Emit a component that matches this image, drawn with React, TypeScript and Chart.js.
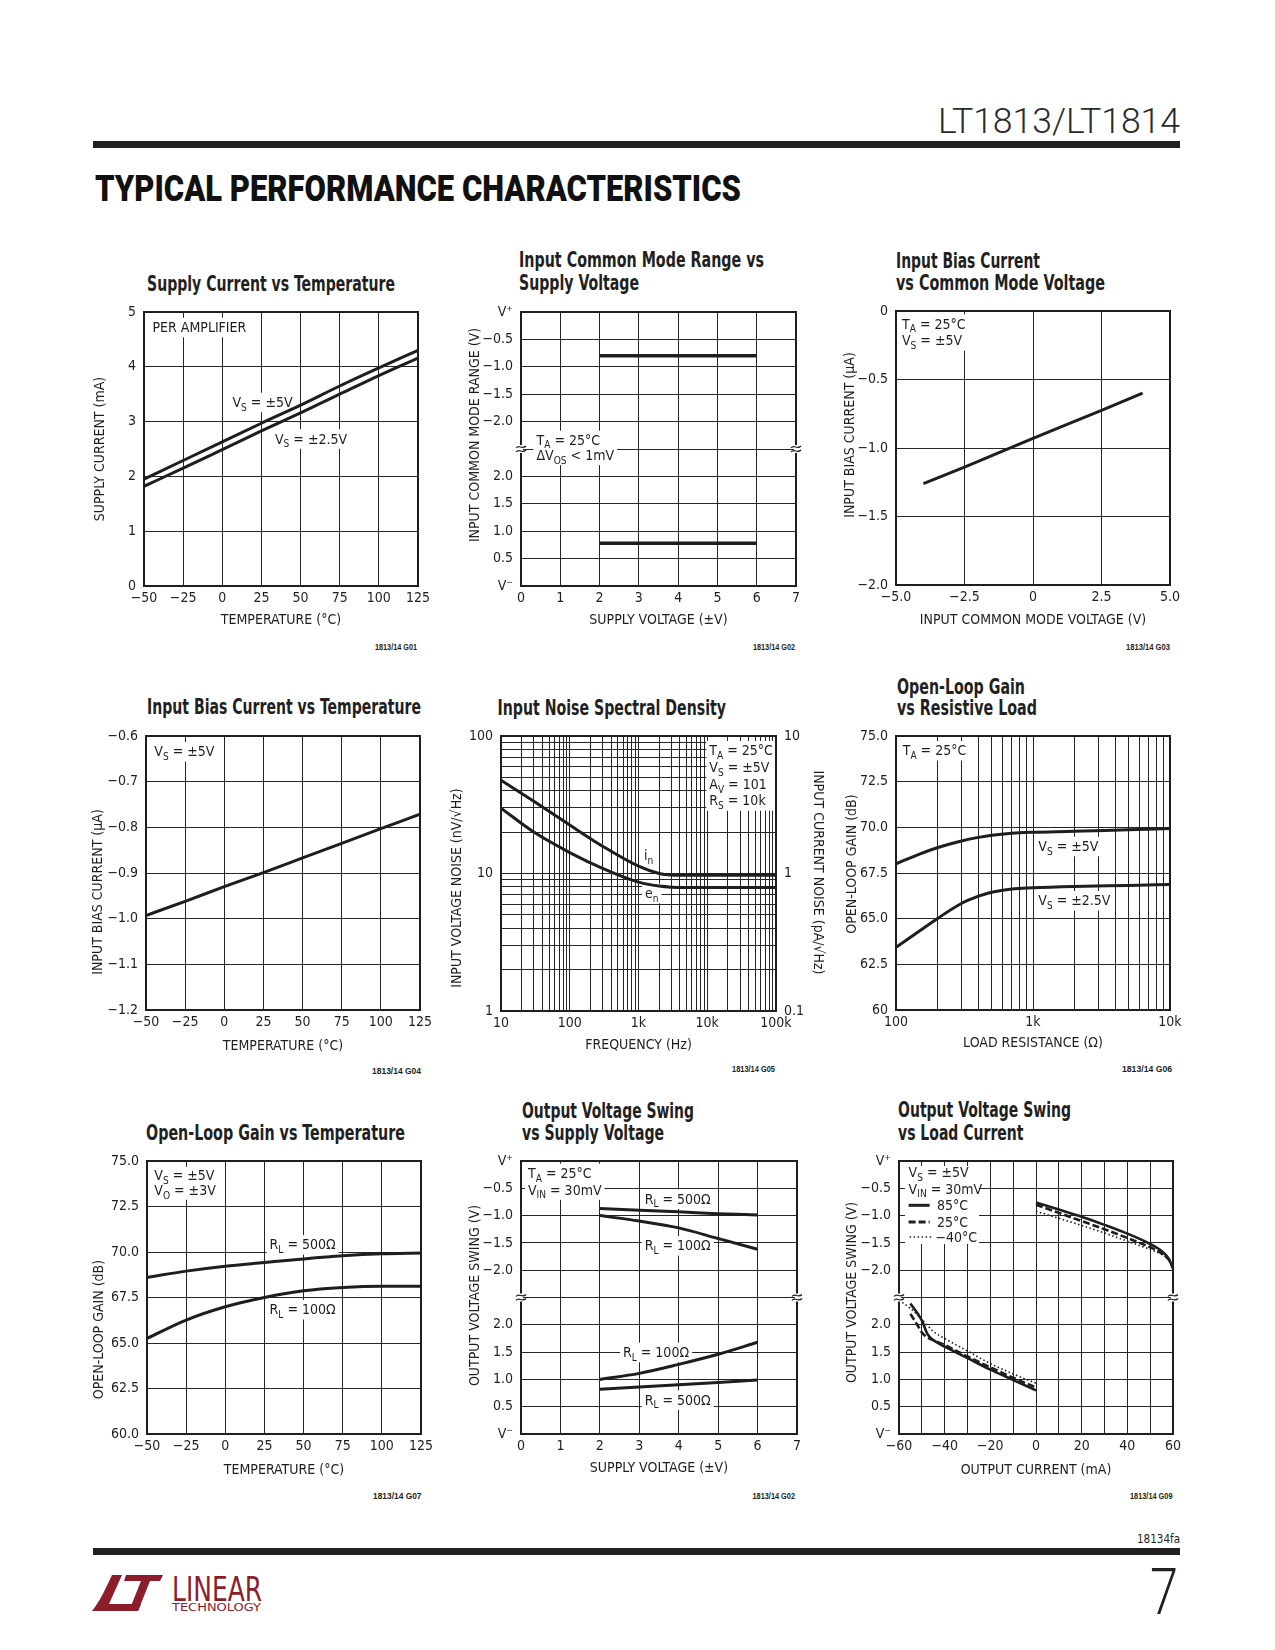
import React, { useEffect, useRef } from 'react';
import { Chart, registerables } from 'chart.js';

Chart.register(...registerables);

const FAM = '"Liberation Sans Narrow", "DejaVu Sans Condensed", "Liberation Sans", Arial, sans-serif';
const INK = '#1e1e1e';
const GRID = '#262626';

/* ================= DATA ================= */
// G01 Supply Current vs Temperature
const g01Temp = [-50, -25, 0, 25, 50, 75, 100, 125];
const g01SupplyVs5 = [1.95, 2.29, 2.63, 2.97, 3.3, 3.65, 3.98, 4.3];
const g01SupplyVs25 = [1.82, 2.15, 2.49, 2.83, 3.16, 3.5, 3.84, 4.16];
// G02 Input Common Mode Range vs Supply Voltage
const g02Supply = [2, 3, 4, 5, 6];
const g02TopFromVplus = [-0.8, -0.8, -0.8, -0.8, -0.8];
const g02BotFromVminus = [0.78, 0.78, 0.78, 0.78, 0.78];
// G03 Input Bias Current vs Common Mode Voltage
const g03Vcm = [-4, -2.5, 0, 2.5, 4];
const g03Ib = [-1.26, -1.14, -0.93, -0.725, -0.6];
// G04 Input Bias Current vs Temperature
const g04Temp = [-50, -25, 0, 25, 50, 75, 100, 125];
const g04Ib = [-0.993, -0.962, -0.93, -0.899, -0.867, -0.835, -0.803, -0.771];
// G05 Input Noise Spectral Density
const g05Freq = [10, 30, 100, 300, 1000, 2000, 3000, 5000, 10000, 100000];
const g05En = [29.9, 20.0, 14.2, 10.9, 8.65, 8.1, 7.95, 7.9, 7.9, 7.9];
const g05In = [4.76, 3.35, 2.25, 1.58, 1.13, 1.0, 0.975, 0.97, 0.97, 0.97];
// G06 Open-Loop Gain vs Resistive Load
const g06Load = [100, 150, 200, 300, 400, 500, 700, 1000, 2000, 5000, 10000];
const g06Vs5 = [68.0, 68.55, 68.88, 69.25, 69.45, 69.57, 69.68, 69.73, 69.78, 69.87, 69.93];
const g06Vs25 = [63.43, 64.35, 65.0, 65.83, 66.23, 66.45, 66.63, 66.69, 66.76, 66.82, 66.87];
// G07 Open-Loop Gain vs Temperature
const g07Temp = [-50, -25, 0, 25, 50, 75, 100, 125];
const g07Rl500 = [68.6, 68.95, 69.22, 69.42, 69.62, 69.79, 69.9, 69.95];
const g07Rl100 = [65.25, 66.26, 66.99, 67.5, 67.87, 68.05, 68.12, 68.12];
// G08 Output Voltage Swing vs Supply Voltage
const g08Supply = [2, 3, 4, 5, 6];
const g08TopRl500 = [-0.87, -0.9, -0.93, -0.965, -0.99];
const g08TopRl100 = [-1.0, -1.1, -1.225, -1.42, -1.615];
const g08BotRl100 = [1.0, 1.11, 1.275, 1.46, 1.68];
const g08BotRl500 = [0.82, 0.86, 0.9, 0.945, 0.99];
// G09 Output Voltage Swing vs Load Current
const g09SourceI = [0, 10, 20, 30, 40, 50, 55, 58, 60];
const g09Top85 = [-0.76, -0.89, -1.02, -1.17, -1.33, -1.52, -1.65, -1.78, -1.97];
const g09Top25 = [-0.8, -0.95, -1.1, -1.25, -1.41, -1.58, -1.69, -1.8, -1.93];
const g09TopM40 = [-0.92, -1.05, -1.18, -1.32, -1.47, -1.62, -1.71, -1.8, -1.92];
const g09Sink85I = [-55, -50, -47.5, -45, -40, -30, -20, -10, 0];
const g09Bot85 = [2.39, 2.08, 1.83, 1.72, 1.6, 1.39, 1.18, 0.99, 0.8];
const g09Sink25I = [-55, -52, -50, -48, -45, -40, -30, -20, -10, 0];
const g09Bot25 = [2.2, 2.0, 1.86, 1.78, 1.72, 1.63, 1.42, 1.22, 1.03, 0.85];
const g09SinkM40I = [-60, -55, -50, -45, -40, -30, -20, -10, 0];
const g09BotM40 = [2.45, 2.3, 2.1, 1.88, 1.75, 1.52, 1.29, 1.1, 0.93];

/* ================= TICKS ================= */
const tempTicks = [-50, -25, 0, 25, 50, 75, 100, 125];
const tempTickLabels = ['\u221250', '\u221225', '0', '25', '50', '75', '100', '125'];
const g01YTicks = [0, 1, 2, 3, 4, 5];
const g01YLabels = ['0', '1', '2', '3', '4', '5'];
const supplyTicks = [0, 1, 2, 3, 4, 5, 6, 7];
const supplyTickLabels = ['0', '1', '2', '3', '4', '5', '6', '7'];
const swingTopTicks = [0, -0.5, -1, -1.5, -2, -2.5];
const swingTopLabels = ['V\u207A', '\u22120.5', '\u22121.0', '\u22121.5', '\u22122.0', ''];
const swingBotTicks = [2.5, 2, 1.5, 1, 0.5, 0];
const swingBotLabels = ['', '2.0', '1.5', '1.0', '0.5', 'V\u207B'];
const g03XTicks = [-5, -2.5, 0, 2.5, 5];
const g03XLabels = ['\u22125.0', '\u22122.5', '0', '2.5', '5.0'];
const g03YTicks = [0, -0.5, -1, -1.5, -2];
const g03YLabels = ['0', '\u22120.5', '\u22121.0', '\u22121.5', '\u22122.0'];
const g04YTicks = [-0.6, -0.7, -0.8, -0.9, -1.0, -1.1, -1.2];
const g04YLabels = ['\u22120.6', '\u22120.7', '\u22120.8', '\u22120.9', '\u22121.0', '\u22121.1', '\u22121.2'];
const freqTicks = [10, 100, 1000, 10000, 100000];
const freqTickLabels = ['10', '100', '1k', '10k', '100k'];
const noiseVTicks = [1, 10, 100];
const noiseVLabels = ['1', '10', '100'];
const noiseITicks = [0.1, 1, 10];
const noiseILabels = ['0.1', '1', '10'];
const loadTicks = [100, 1000, 10000];
const loadTickLabels = ['100', '1k', '10k'];
const gainTicks = [60, 62.5, 65, 67.5, 70, 72.5, 75];
const g06GainLabels = ['60', '62.5', '65.0', '67.5', '70.0', '72.5', '75.0'];
const g07GainLabels = ['60.0', '62.5', '65.0', '67.5', '70.0', '72.5', '75.0'];
const currentTicks = [-60, -50, -40, -30, -20, -10, 0, 10, 20, 30, 40, 50, 60];
const currentTickLabels = ['\u221260', '', '\u221240', '', '\u221220', '', '0', '', '20', '', '40', '', '60'];

/* ================= LAYOUT ================= */
const YW = 70;
const PADT = 20;
const XH = 50;
const PADR = 30;

function logGrid(min: number, max: number) {
  const out: number[] = [];
  for (let d = min; d < max; d *= 10) for (let m = 1; m < 10; m++) out.push(d * m);
  out.push(max);
  return out;
}

type Note = { dx: number; dy: number; lines: string[]; bg?: boolean; lh?: number };
type Sample = { dx0: number; dx1: number; dy: number; dash: number[]; width: number };
type Rect = { dx: number; dy: number; w: number; h: number };
type AxisTitle = { text: string; d: number; shift: number };
type Extra = { notes: Note[]; samples?: Sample[]; rects?: Rect[]; yTitle: AxisTitle; rTitle?: AxisTitle; breaks?: boolean };
type Spec = {
  plot: { l: number; t: number; w: number; h: number };
  rightAxis?: number;
  scales: (size: number) => any;
  datasets: () => any[];
  extra: Extra;
};

function fontStr(size: number, weight = '') {
  return `${weight} ${size}px ${FAM}`.trim();
}

function parts(s: string) {
  const out: { t: string; sub: boolean }[] = [];
  const re = /_\{([^}]*)\}/g;
  let last = 0;
  let m: RegExpExecArray | null;
  while ((m = re.exec(s))) {
    if (m.index > last) out.push({ t: s.slice(last, m.index), sub: false });
    out.push({ t: m[1], sub: true });
    last = re.lastIndex;
  }
  if (last < s.length) out.push({ t: s.slice(last), sub: false });
  return out;
}

function richWidth(ctx: CanvasRenderingContext2D, s: string, size: number) {
  let w = 0;
  for (const p of parts(s)) {
    ctx.font = fontStr(p.sub ? size * 0.72 : size);
    w += ctx.measureText(p.t).width;
  }
  return w;
}

function drawRich(ctx: CanvasRenderingContext2D, s: string, x: number, yMid: number, size: number) {
  const base = yMid + size * 0.36;
  ctx.fillStyle = INK;
  ctx.textBaseline = 'alphabetic';
  ctx.textAlign = 'left';
  let cx = x;
  for (const p of parts(s)) {
    ctx.font = fontStr(p.sub ? size * 0.72 : size);
    ctx.fillText(p.t, cx, p.sub ? base + size * 0.27 : base);
    cx += ctx.measureText(p.t).width;
  }
}

function decor(extra: Extra, size: number) {
  return {
    id: 'decor',
    beforeDatasetsDraw(chart: any) {
      const ctx: CanvasRenderingContext2D = chart.ctx;
      const a = chart.chartArea;
      ctx.save();
      for (const r of extra.rects || []) {
        ctx.fillStyle = '#fff';
        ctx.fillRect(a.left + r.dx, a.top + r.dy, r.w, r.h);
      }
      for (const n of extra.notes) {
        const lh = n.lh || 16.5;
        if (n.bg) {
          const w = Math.max(...n.lines.map((s) => richWidth(ctx, s, size)));
          ctx.fillStyle = '#fff';
          ctx.fillRect(a.left + n.dx - 3, a.top + n.dy - lh / 2 - 1, w + 6, lh * n.lines.length + 3);
        }
        n.lines.forEach((s, i) => drawRich(ctx, s, a.left + n.dx, a.top + n.dy + i * lh, size));
      }
      for (const s of extra.samples || []) {
        ctx.strokeStyle = INK;
        ctx.lineWidth = s.width;
        ctx.setLineDash(s.dash);
        ctx.beginPath();
        ctx.moveTo(a.left + s.dx0, a.top + s.dy);
        ctx.lineTo(a.left + s.dx1, a.top + s.dy);
        ctx.stroke();
      }
      ctx.setLineDash([]);
      ctx.restore();
    },
    afterDatasetsDraw(chart: any) {
      const ctx: CanvasRenderingContext2D = chart.ctx;
      const a = chart.chartArea;
      ctx.save();
      ctx.strokeStyle = INK;
      ctx.lineWidth = 2;
      ctx.strokeRect(a.left, a.top, a.right - a.left, a.bottom - a.top);
      if (extra.breaks) {
        const yb = (a.top + a.bottom) / 2;
        for (const x of [a.left, a.right]) {
          ctx.fillStyle = '#fff';
          ctx.fillRect(x - 2, yb - 4, 4, 8);
          ctx.strokeStyle = INK;
          ctx.lineWidth = 1.2;
          for (const off of [-2, 2]) {
            ctx.beginPath();
            ctx.moveTo(x - 5, yb + off + 1);
            ctx.bezierCurveTo(x - 2, yb + off - 3, x + 1, yb + off + 3, x + 5, yb + off - 1);
            ctx.stroke();
          }
        }
      }
      ctx.restore();
    },
    afterDraw(chart: any) {
      const ctx: CanvasRenderingContext2D = chart.ctx;
      const a = chart.chartArea;
      ctx.save();
      ctx.fillStyle = INK;
      ctx.font = fontStr(size);
      ctx.textAlign = 'center';
      ctx.textBaseline = 'middle';
      const cy = (a.top + a.bottom) / 2;
      ctx.save();
      ctx.translate(a.left - extra.yTitle.d, cy + extra.yTitle.shift);
      ctx.rotate(-Math.PI / 2);
      ctx.fillText(extra.yTitle.text, 0, 0);
      ctx.restore();
      if (extra.rTitle) {
        ctx.save();
        ctx.translate(a.right + extra.rTitle.d, cy + extra.rTitle.shift);
        ctx.rotate(Math.PI / 2);
        ctx.fillText(extra.rTitle.text, 0, 0);
        ctx.restore();
      }
      ctx.restore();
    },
  };
}

function tickSet(values: number[], labels: string[], grid?: number[]) {
  return {
    afterBuildTicks: (s: any) => {
      s.ticks = (grid || values).map((v) => ({ value: v }));
    },
    callback: (v: any) => {
      const n = Number(v);
      const i = values.findIndex((t) => Math.abs(t - n) < 1e-6 * Math.max(1, Math.abs(t)));
      return i >= 0 ? labels[i] : '';
    },
  };
}

function xAxis(size: number, type: string, min: number, max: number, values: number[], labels: string[], title: string, dX: number, grid?: number[]) {
  const ts = tickSet(values, labels, grid);
  return {
    type, min, max, position: 'bottom',
    afterBuildTicks: ts.afterBuildTicks,
    afterFit: (s: any) => { s.height = XH; },
    ticks: { autoSkip: false, maxRotation: 0, minRotation: 0, padding: 4, color: INK, font: { family: FAM, size }, callback: ts.callback },
    grid: { color: GRID, lineWidth: 1, drawTicks: false },
    border: { display: false },
    title: { display: true, text: title, color: INK, font: { family: FAM, size, lineHeight: 1.2 }, padding: { top: 0, bottom: XH - dX - size * 0.6 } },
  };
}

function yAxis(size: number, type: string, min: number, max: number, values: number[], labels: string[], extraOpts: any = {}, grid?: number[]) {
  const ts = tickSet(values, labels, grid);
  const pos = extraOpts.position || 'left';
  return {
    type, min, max, position: pos,
    afterBuildTicks: ts.afterBuildTicks,
    afterFit: (s: any) => { s.width = extraOpts.width || YW; },
    ticks: { autoSkip: false, padding: 8, color: INK, font: { family: FAM, size }, callback: ts.callback },
    grid: { color: GRID, lineWidth: 1, drawTicks: false, display: extraOpts.gridDisplay !== false },
    border: { display: false },
    title: { display: false },
    ...(extraOpts.stack ? { stack: extraOpts.stack, stackWeight: 1, weight: extraOpts.weight } : {}),
  };
}

function line(xs: number[], ys: number[], o: any = {}) {
  return {
    data: xs.map((x, i) => ({ x, y: ys[i] })),
    borderColor: INK,
    backgroundColor: INK,
    borderWidth: 3,
    pointRadius: 0,
    fill: false,
    cubicInterpolationMode: 'monotone',
    borderCapStyle: 'butt',
    ...o,
  };
}

function swingAxes(size: number) {
  return {
    yTop: yAxis(size, 'linear', -2.5, 0, swingTopTicks, swingTopLabels, { stack: 'v', weight: 2 }),
    yBot: yAxis(size, 'linear', 0, 2.5, swingBotTicks, swingBotLabels, { stack: 'v', weight: 1 }),
  };
}

const SPECS: Spec[] = [
  {
    plot: { l: 144, t: 312, w: 274, h: 274 },
    scales: (s) => ({
      x: xAxis(s, 'linear', -50, 125, tempTicks, tempTickLabels, 'TEMPERATURE (\u00B0C)', 34),
      y: yAxis(s, 'linear', 0, 5, g01YTicks, g01YLabels),
    }),
    datasets: () => [line(g01Temp, g01SupplyVs5), line(g01Temp, g01SupplyVs25)],
    extra: {
      notes: [
        { dx: 8.5, dy: 15, lines: ['PER AMPLIFIER'], bg: true },
        { dx: 88.5, dy: 90, lines: ['V_{S} = \u00B15V'], bg: true },
        { dx: 131, dy: 126.5, lines: ['V_{S} = \u00B12.5V'], bg: true },
      ],
      yTitle: { text: 'SUPPLY CURRENT (mA)', d: 44, shift: 0 },
    },
  },
  {
    plot: { l: 521, t: 312, w: 275, h: 274 },
    scales: (s) => ({
      x: xAxis(s, 'linear', 0, 7, supplyTicks, supplyTickLabels, 'SUPPLY VOLTAGE (\u00B1V)', 34),
      ...swingAxes(s),
    }),
    datasets: () => [
      line(g02Supply, g02TopFromVplus, { yAxisID: 'yTop', borderWidth: 3.5 }),
      line(g02Supply, g02BotFromVminus, { yAxisID: 'yBot', borderWidth: 3.5 }),
    ],
    extra: {
      notes: [{ dx: 15.5, dy: 127.6, lines: ['T_{A} = 25\u00B0C', '\u0394V_{OS} < 1mV'], bg: true, lh: 15.7 }],
      yTitle: { text: 'INPUT COMMON MODE RANGE (V)', d: 46, shift: -14 },
      breaks: true,
    },
  },
  {
    plot: { l: 896, t: 311, w: 274, h: 274 },
    scales: (s) => ({
      x: xAxis(s, 'linear', -5, 5, g03XTicks, g03XLabels, 'INPUT COMMON MODE VOLTAGE (V)', 35),
      y: yAxis(s, 'linear', -2, 0, g03YTicks, g03YLabels),
    }),
    datasets: () => [line(g03Vcm, g03Ib)],
    extra: {
      notes: [{ dx: 6, dy: 12.6, lines: ['T_{A} = 25\u00B0C', 'V_{S} = \u00B15V'], bg: true, lh: 16.7 }],
      yTitle: { text: 'INPUT BIAS CURRENT (\u00B5A)', d: 46, shift: -13 },
    },
  },
  {
    plot: { l: 146, t: 736, w: 274, h: 274 },
    scales: (s) => ({
      x: xAxis(s, 'linear', -50, 125, tempTicks, tempTickLabels, 'TEMPERATURE (\u00B0C)', 36),
      y: yAxis(s, 'linear', -1.2, -0.6, g04YTicks, g04YLabels),
    }),
    datasets: () => [line(g04Temp, g04Ib)],
    extra: {
      notes: [{ dx: 8.3, dy: 15.3, lines: ['V_{S} = \u00B15V'], bg: true }],
      yTitle: { text: 'INPUT BIAS CURRENT (\u00B5A)', d: 48, shift: 19 },
    },
  },
  {
    plot: { l: 501, t: 736, w: 275, h: 275 },
    rightAxis: 60,
    scales: (s) => ({
      x: xAxis(s, 'logarithmic', 10, 100000, freqTicks, freqTickLabels, 'FREQUENCY (Hz)', 34, logGrid(10, 100000)),
      y: yAxis(s, 'logarithmic', 1, 100, noiseVTicks, noiseVLabels, {}, logGrid(1, 100)),
      y2: yAxis(s, 'logarithmic', 0.1, 10, noiseITicks, noiseILabels, { position: 'right', width: 60, gridDisplay: false }),
    }),
    datasets: () => [line(g05Freq, g05En, { yAxisID: 'y' }), line(g05Freq, g05In, { yAxisID: 'y2' })],
    extra: {
      notes: [
        { dx: 208.3, dy: 14.3, lines: ['T_{A} = 25\u00B0C', 'V_{S} = \u00B15V', 'A_{V} = 101', 'R_{S} = 10k'], bg: true, lh: 16.7 },
        { dx: 143, dy: 119, lines: ['i_{n}'], bg: true },
        { dx: 144, dy: 157, lines: ['e_{n}'], bg: true },
      ],
      yTitle: { text: 'INPUT VOLTAGE NOISE (nV/\u221AHz)', d: 44, shift: 14.6 },
      rTitle: { text: 'INPUT CURRENT NOISE (pA/\u221AHz)', d: 42, shift: -1 },
    },
  },
  {
    plot: { l: 896, t: 736, w: 274, h: 274 },
    scales: (s) => ({
      x: xAxis(s, 'logarithmic', 100, 10000, loadTicks, loadTickLabels, 'LOAD RESISTANCE (\u03A9)', 33, logGrid(100, 10000)),
      y: yAxis(s, 'linear', 60, 75, gainTicks, g06GainLabels),
    }),
    datasets: () => [line(g06Load, g06Vs5), line(g06Load, g06Vs25)],
    extra: {
      notes: [
        { dx: 6.7, dy: 14.3, lines: ['T_{A} = 25\u00B0C'], bg: true },
        { dx: 142.3, dy: 110, lines: ['V_{S} = \u00B15V'], bg: true },
        { dx: 142.3, dy: 164.3, lines: ['V_{S} = \u00B12.5V'], bg: true },
      ],
      yTitle: { text: 'OPEN-LOOP GAIN (dB)', d: 44, shift: -9 },
    },
  },
  {
    plot: { l: 147, t: 1161, w: 274, h: 273 },
    scales: (s) => ({
      x: xAxis(s, 'linear', -50, 125, tempTicks, tempTickLabels, 'TEMPERATURE (\u00B0C)', 36),
      y: yAxis(s, 'linear', 60, 75, gainTicks, g07GainLabels),
    }),
    datasets: () => [line(g07Temp, g07Rl500), line(g07Temp, g07Rl100)],
    extra: {
      notes: [
        { dx: 7.3, dy: 14.3, lines: ['V_{S} = \u00B15V', 'V_{O} = \u00B13V'], bg: true, lh: 15 },
        { dx: 122.6, dy: 83.3, lines: ['R_{L} = 500\u03A9'], bg: true },
        { dx: 122.6, dy: 148.3, lines: ['R_{L} = 100\u03A9'], bg: true },
      ],
      yTitle: { text: 'OPEN-LOOP GAIN (dB)', d: 48, shift: 32 },
    },
  },
  {
    plot: { l: 521, t: 1161, w: 276, h: 273 },
    scales: (s) => ({
      x: xAxis(s, 'linear', 0, 7, supplyTicks, supplyTickLabels, 'SUPPLY VOLTAGE (\u00B1V)', 34),
      ...swingAxes(s),
    }),
    datasets: () => [
      line(g08Supply, g08TopRl500, { yAxisID: 'yTop' }),
      line(g08Supply, g08TopRl100, { yAxisID: 'yTop' }),
      line(g08Supply, g08BotRl100, { yAxisID: 'yBot' }),
      line(g08Supply, g08BotRl500, { yAxisID: 'yBot' }),
    ],
    extra: {
      notes: [
        { dx: 7, dy: 12, lines: ['T_{A} = 25\u00B0C', 'V_{IN} = 30mV'], bg: true, lh: 16.6 },
        { dx: 123.7, dy: 37.6, lines: ['R_{L} = 500\u03A9'], bg: true },
        { dx: 123.7, dy: 84.3, lines: ['R_{L} = 100\u03A9'], bg: true },
        { dx: 102, dy: 191, lines: ['R_{L} = 100\u03A9'], bg: true },
        { dx: 123.7, dy: 238.6, lines: ['R_{L} = 500\u03A9'], bg: true },
      ],
      yTitle: { text: 'OUTPUT VOLTAGE SWING (V)', d: 46, shift: -2 },
      breaks: true,
    },
  },
  {
    plot: { l: 899, t: 1161, w: 274, h: 273 },
    scales: (s) => ({
      x: xAxis(s, 'linear', -60, 60, currentTicks, currentTickLabels, 'OUTPUT CURRENT (mA)', 36),
      ...swingAxes(s),
    }),
    datasets: () => [
      line(g09SourceI, g09Top85, { yAxisID: 'yTop', borderWidth: 2.6 }),
      line(g09SourceI, g09Top25, { yAxisID: 'yTop', borderWidth: 2.6, borderDash: [7, 3] }),
      line(g09SourceI, g09TopM40, { yAxisID: 'yTop', borderWidth: 1.6, borderDash: [1.5, 2.5] }),
      line(g09Sink85I, g09Bot85, { yAxisID: 'yBot', borderWidth: 2.6 }),
      line(g09Sink25I, g09Bot25, { yAxisID: 'yBot', borderWidth: 2.6, borderDash: [7, 3] }),
      line(g09SinkM40I, g09BotM40, { yAxisID: 'yBot', borderWidth: 1.6, borderDash: [1.5, 2.5] }),
    ],
    extra: {
      rects: [{ dx: 6, dy: 5, w: 74, h: 78 }],
      notes: [
        { dx: 9.6, dy: 11, lines: ['V_{S} = \u00B15V', 'V_{IN} = 30mV'], lh: 16.6 },
        { dx: 38, dy: 44.3, lines: ['85\u00B0C'] },
        { dx: 38, dy: 61, lines: ['25\u00B0C'] },
        { dx: 36.5, dy: 76, lines: ['\u221240\u00B0C'] },
      ],
      samples: [
        { dx0: 9.6, dx1: 30.6, dy: 44.3, dash: [], width: 3 },
        { dx0: 9.6, dx1: 30.6, dy: 61, dash: [7, 3], width: 3 },
        { dx0: 10.6, dx1: 34.6, dy: 76, dash: [1.5, 2.5], width: 1.6 },
      ],
      yTitle: { text: 'OUTPUT VOLTAGE SWING (V)', d: 47, shift: -5 },
      breaks: true,
    },
  },
];

/* ================= PAGE TEXT ================= */
type TitleLine = { x: number; y: number; w: number; text: string };
const chartTitles: TitleLine[] = [
  { x: 147, y: 291, w: 248, text: 'Supply Current vs Temperature' },
  { x: 519, y: 267, w: 245, text: 'Input Common Mode Range vs' },
  { x: 519, y: 289.5, w: 120, text: 'Supply Voltage' },
  { x: 896, y: 268, w: 144, text: 'Input Bias Current' },
  { x: 896, y: 290, w: 209, text: 'vs Common Mode Voltage' },
  { x: 147, y: 713.5, w: 274, text: 'Input Bias Current vs Temperature' },
  { x: 497.5, y: 715, w: 228.5, text: 'Input Noise Spectral Density' },
  { x: 897, y: 693.5, w: 128, text: 'Open-Loop Gain' },
  { x: 897, y: 715, w: 140, text: 'vs Resistive Load' },
  { x: 146, y: 1140, w: 259, text: 'Open-Loop Gain vs Temperature' },
  { x: 522, y: 1117.5, w: 172, text: 'Output Voltage Swing' },
  { x: 522, y: 1140, w: 142, text: 'vs Supply Voltage' },
  { x: 898, y: 1117, w: 173, text: 'Output Voltage Swing' },
  { x: 898, y: 1139.5, w: 125.5, text: 'vs Load Current' },
];
const chartCodes: TitleLine[] = [
  { x: 375, y: 650, w: 42, text: '1813/14 G01' },
  { x: 753, y: 650, w: 42, text: '1813/14 G02' },
  { x: 1126, y: 649.5, w: 44, text: '1813/14 G03' },
  { x: 372, y: 1073.5, w: 49, text: '1813/14 G04' },
  { x: 732, y: 1071.5, w: 43, text: '1813/14 G05' },
  { x: 1122, y: 1071.5, w: 50, text: '1813/14 G06' },
  { x: 373, y: 1498.5, w: 48.5, text: '1813/14 G07' },
  { x: 752.5, y: 1498.5, w: 42.5, text: '1813/14 G02' },
  { x: 1130, y: 1498.5, w: 42.5, text: '1813/14 G09' },
];

function calibrate() {
  const c = document.createElement('canvas').getContext('2d')!;
  c.font = `100px ${FAM}`;
  const m = c.measureText('H');
  const capRatio = (m.actualBoundingBoxAscent || 72) / 100;
  const sizeCap = 10.3 / capRatio;
  c.font = `15px ${FAM}`;
  const w = c.measureText('TEMPERATURE (\u00B0C)').width || 116;
  const sizeW = (15 * 125) / w;
  const s = Math.min(sizeCap, sizeW);
  return Math.max(11, Math.min(16, Math.round(s * 2) / 2));
}

export default function App() {
  const refs = useRef<(HTMLCanvasElement | null)[]>([]);

  useEffect(() => {
    const size = calibrate();
    Chart.defaults.font.family = FAM;
    Chart.defaults.color = INK;
    const charts = SPECS.map((sp, i) => {
      const cv = refs.current[i]!;
      const rw = sp.rightAxis || 0;
      return new Chart(cv, {
        type: 'line',
        data: { datasets: sp.datasets() },
        options: {
          responsive: false,
          animation: false,
          devicePixelRatio: 1,
          events: [],
          layout: { padding: { left: 0, top: PADT, right: rw ? 10 : PADR, bottom: 0 } },
          plugins: { legend: { display: false }, tooltip: { enabled: false }, title: { display: false } },
          scales: sp.scales(size),
        },
        plugins: [decor(sp.extra, size)],
      } as any);
    });
    return () => charts.forEach((c) => c.destroy());
  }, []);

  return (
    <div style={{ position: 'absolute', left: 0, top: 0, width: 1275, height: 1650, background: '#fff', overflow: 'hidden' }}>
      <svg width={1275} height={1650} style={{ position: 'absolute', left: 0, top: 0 }}>
        <text x={938} y={133} fontFamily="Roboto, 'Liberation Sans', sans-serif" fontWeight={300} fontSize={35} textLength={242} lengthAdjust="spacingAndGlyphs" fill="#2b2b2b">LT1813/LT1814</text>
        <rect x={93} y={141} width={1087} height={7} fill="#231f20" />
        <text x={95} y={201} fontFamily="Roboto, 'Liberation Sans', sans-serif" fontWeight={900} fontSize={37} textLength={646} lengthAdjust="spacingAndGlyphs" fill="#111">TYPICAL PERFORMANCE CHARACTERISTICS</text>
        {chartTitles.map((t, i) => (
          <text key={'t' + i} x={t.x} y={t.y} fontFamily={FAM} fontWeight={700} fontSize={21} textLength={t.w} lengthAdjust="spacingAndGlyphs" fill="#231f20">{t.text}</text>
        ))}
        {chartCodes.map((t, i) => (
          <text key={'c' + i} x={t.x} y={t.y} fontFamily="'Liberation Sans', Arial, sans-serif" fontWeight={700} fontSize={9.5} textLength={t.w} lengthAdjust="spacingAndGlyphs" fill="#231f20">{t.text}</text>
        ))}
        <text x={1137} y={1543} fontFamily={FAM} fontSize={12} textLength={43} lengthAdjust="spacingAndGlyphs" fill="#231f20">18134fa</text>
        <rect x={93} y={1548} width={1087} height={7} fill="#231f20" />
        <text x={1150} y={1614} fontFamily="Roboto, 'Liberation Sans', sans-serif" fontWeight={300} fontSize={64} textLength={28} lengthAdjust="spacingAndGlyphs" fill="#231f20">7</text>
        <g fill="#8c1d2c">
          <path d="M112 1575 L122 1575 L109 1604 L141 1604 L138 1611 L92 1611 C100 1601 105 1590 112 1575 Z" />
          <path d="M126 1575 L163 1575 L160 1581 L150 1581 L138 1611 L129 1611 L141 1581 L124 1581 Z" />
          <text x={172} y={1601} fontFamily={FAM} fontSize={33} textLength={90} lengthAdjust="spacingAndGlyphs">LINEAR</text>
          <text x={172} y={1611} fontFamily={FAM} fontSize={10.5} textLength={89} lengthAdjust="spacingAndGlyphs">TECHNOLOGY</text>
        </g>
      </svg>
      {SPECS.map((sp, i) => {
        const rw = sp.rightAxis || 0;
        const w = YW + sp.plot.w + (rw ? rw + 10 : PADR);
        const h = PADT + sp.plot.h + XH;
        return (
          <canvas
            key={i}
            ref={(el) => { refs.current[i] = el; }}
            width={w}
            height={h}
            style={{ position: 'absolute', left: sp.plot.l - YW, top: sp.plot.t - PADT, width: w, height: h }}
          />
        );
      })}
    </div>
  );
}
